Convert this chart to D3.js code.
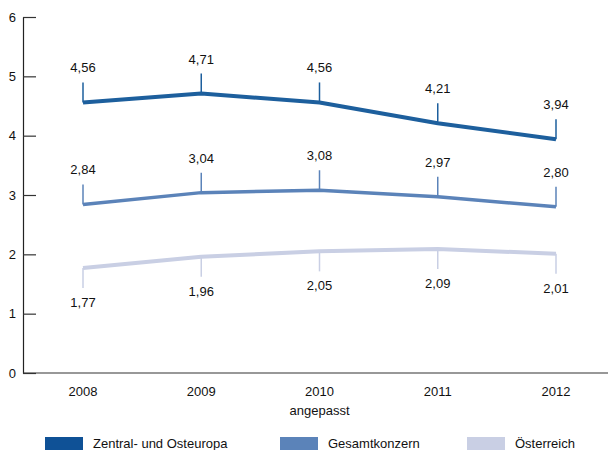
<!DOCTYPE html>
<html>
<head>
<meta charset="utf-8">
<script src="https://cdn.jsdelivr.net/npm/d3@7"></script>
<style>
  html, body { margin: 0; padding: 0; background: #fff; }
  svg { display: block; font-family: "Liberation Sans", Arial, sans-serif; }
</style>
</head>
<body>
<svg id="chart" width="609" height="450"></svg>
<script>
// Years on the x axis
const years = ["2008", "2009", "2010", "2011", "2012"];
const yearNotes = ["", "", "angepasst", "", ""];

// Series values
const zoeValues = [4.56, 4.71, 4.56, 4.21, 3.94];
const gesamtValues = [2.84, 3.04, 3.08, 2.97, 2.80];
const oesterreichValues = [1.77, 1.96, 2.05, 2.09, 2.01];

const seriesNames = ["Zentral- und Osteuropa", "Gesamtkonzern", "Österreich"];
const yTicks = [0, 1, 2, 3, 4, 5, 6];

const series = [
  { name: seriesNames[0], values: zoeValues, color: "#1d5f9d", swatch: "#0f5196", width: 4, dir: -1 },
  { name: seriesNames[1], values: gesamtValues, color: "#5b83b9", swatch: "#5b83b9", width: 3.5, dir: -1 },
  { name: seriesNames[2], values: oesterreichValues, color: "#c9cfe4", swatch: "#c9cfe4", width: 4, dir: 1 }
];

const svg = d3.select("#chart");

const x = d3.scalePoint().domain(years).range([83, 556]);
const y = d3.scaleLinear().domain([0, 6]).range([373, 17]);

// y axis
const yAxis = d3.axisLeft(y).tickValues(yTicks).tickFormat(d3.format("d")).tickSize(0).tickPadding(7);
const gy = svg.append("g").attr("transform", "translate(23,0)").call(yAxis);
gy.select(".domain").attr("stroke", "#222").attr("stroke-width", 1.2);
gy.selectAll("text").attr("font-size", 13).attr("fill", "#111")
  .attr("font-family", "Liberation Sans, Arial, sans-serif");
gy.selectAll(".tick").append("line")
  .attr("x1", 0).attr("x2", 13).attr("stroke", "#333").attr("stroke-width", 1.2);

// x axis baseline
svg.append("line")
  .attr("x1", 23).attr("x2", 608)
  .attr("y1", y(0)).attr("y2", y(0))
  .attr("stroke", "#333").attr("stroke-width", 1.2);

// year labels
const xl = svg.append("g");
xl.selectAll("text.year").data(years).join("text")
  .attr("class", "year")
  .attr("x", d => x(d)).attr("y", 396)
  .attr("text-anchor", "middle").attr("font-size", 13).attr("fill", "#111")
  .text(d => d);
xl.selectAll("text.note").data(years).join("text")
  .attr("class", "note")
  .attr("x", d => x(d)).attr("y", 415)
  .attr("text-anchor", "middle").attr("font-size", 13).attr("fill", "#111")
  .text((d, i) => yearNotes[i]);

// lines, value spikes and value labels
const line = d3.line().x((d, i) => x(years[i])).y(d => y(d));

series.forEach(s => {
  const g = svg.append("g");
  g.selectAll("line.spike").data(s.values).join("line")
    .attr("class", "spike")
    .attr("x1", (d, i) => x(years[i])).attr("x2", (d, i) => x(years[i]))
    .attr("y1", d => y(d)).attr("y2", d => y(d) + s.dir * 20)
    .attr("stroke", s.color).attr("stroke-width", 1.5);
  g.append("path").datum(s.values)
    .attr("d", line)
    .attr("fill", "none")
    .attr("stroke", s.color)
    .attr("stroke-width", s.width)
    .attr("stroke-linejoin", "round");
  g.selectAll("text").data(s.values).join("text")
    .attr("x", (d, i) => x(years[i]))
    .attr("y", d => y(d) + s.dir * 30 + (s.dir > 0 ? 9 : 0))
    .attr("text-anchor", "middle").attr("font-size", 13).attr("fill", "#111")
    .text(d => d.toFixed(2).replace(".", ","));
});

// legend
const legendX = [45, 280, 467];
const lg = svg.append("g");
series.forEach((s, i) => {
  lg.append("rect")
    .attr("x", legendX[i]).attr("y", 437)
    .attr("width", 38).attr("height", 13)
    .attr("fill", s.swatch);
  lg.append("text")
    .attr("x", legendX[i] + 48).attr("y", 448)
    .attr("font-size", 13).attr("fill", "#111")
    .text(s.name);
});
</script>
</body>
</html>
